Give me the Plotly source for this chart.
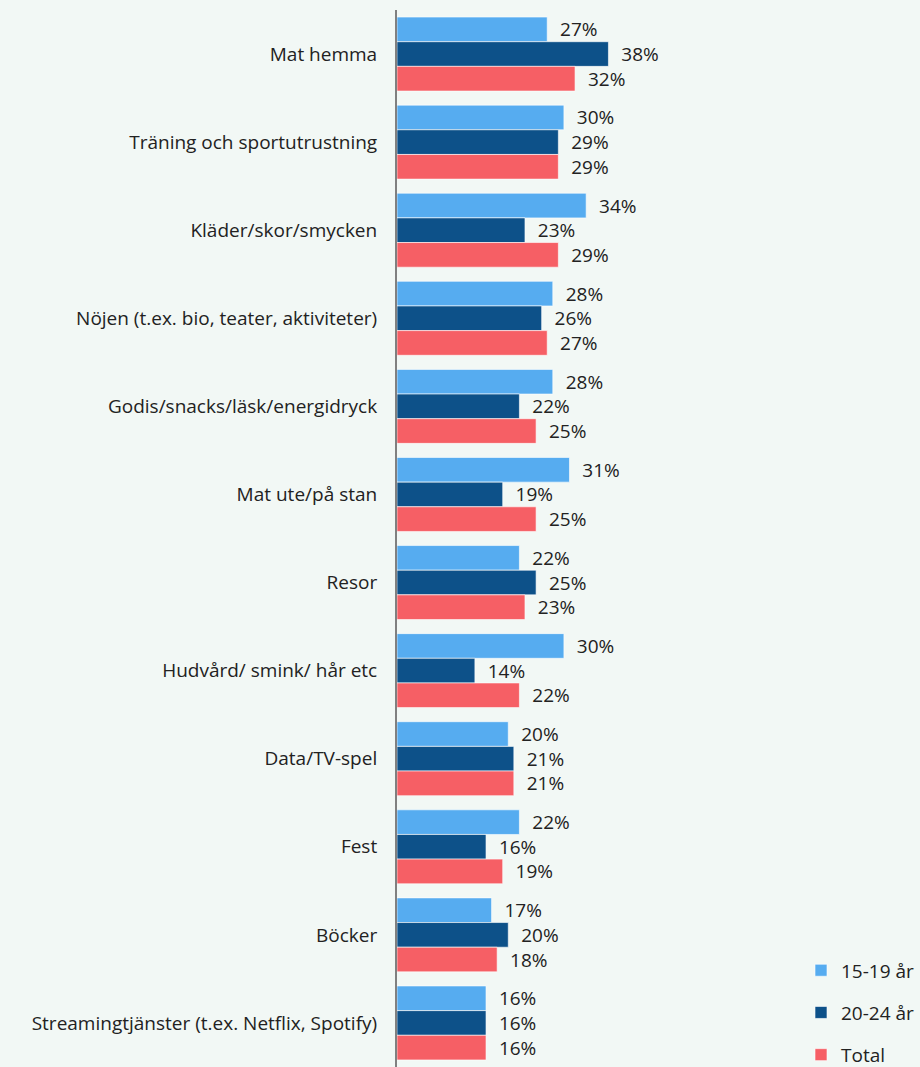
import plotly.graph_objects as go

categories = [
    "Mat hemma",
    "Träning och sportutrustning",
    "Kläder/skor/smycken",
    "Nöjen (t.ex. bio, teater, aktiviteter)",
    "Godis/snacks/läsk/energidryck",
    "Mat ute/på stan",
    "Resor",
    "Hudvård/ smink/ hår etc",
    "Data/TV-spel",
    "Fest",
    "Böcker",
    "Streamingtjänster (t.ex. Netflix, Spotify)",
]
age_15_19 = [27, 30, 34, 28, 28, 31, 22, 30, 20, 22, 17, 16]
age_20_24 = [38, 29, 23, 26, 22, 19, 25, 14, 21, 16, 20, 16]
total = [32, 29, 29, 27, 25, 25, 23, 22, 21, 19, 18, 16]

series = [
    ("15-19 år", age_15_19, "#56acf0"),
    ("20-24 år", age_20_24, "#0d5189"),
    ("Total", total, "#f65f65"),
]

FONT = "'Open Sans', sans-serif"
FS = 19

fig = go.Figure()
for i, (name, vals, color) in enumerate(series):
    fig.add_trace(go.Bar(
        y=categories,
        x=vals,
        name=name,
        orientation="h",
        marker=dict(color=color, line=dict(color="rgba(255,255,255,0.6)", width=1)),
        text=vals,
        texttemplate="  %{x}%",
        textposition="outside",
        constraintext="none",
        cliponaxis=False,
        textfont=dict(family=FONT, size=FS, color="#222222"),
        legendgroup=name,
    ))

fig.update_layout(
    width=920,
    height=1067,
    barmode="group",
    bargap=0.16,
    bargroupgap=0.0,
    paper_bgcolor="#f2f8f5",
    plot_bgcolor="#f2f8f5",
    margin=dict(l=397, r=0, t=10, b=0, autoexpand=False),
    font=dict(family=FONT, size=FS, color="#222222"),
    xaxis=dict(range=[0, 94], visible=False, showgrid=False, zeroline=False),
    yaxis=dict(
        autorange="reversed",
        showline=True,
        linecolor="#808080",
        linewidth=2,
        showgrid=False,
        zeroline=False,
        ticks="",
        ticklabelstandoff=14,
        tickfont=dict(family=FONT, size=FS, color="#222222"),
    ),
    legend=dict(
        x=1.0,
        y=-0.007,
        xanchor="right",
        yanchor="bottom",
        orientation="v",
        tracegroupgap=14.5,
        font=dict(family=FONT, size=FS, color="#222222"),
        bgcolor="rgba(0,0,0,0)",
        itemwidth=30,
    ),
    showlegend=True,
)

fig.write_html(
    "out.html",
    config={"displayModeBar": False},
    post_script="document.body.style.margin='0';document.body.style.background='#f2f8f5';",
)
